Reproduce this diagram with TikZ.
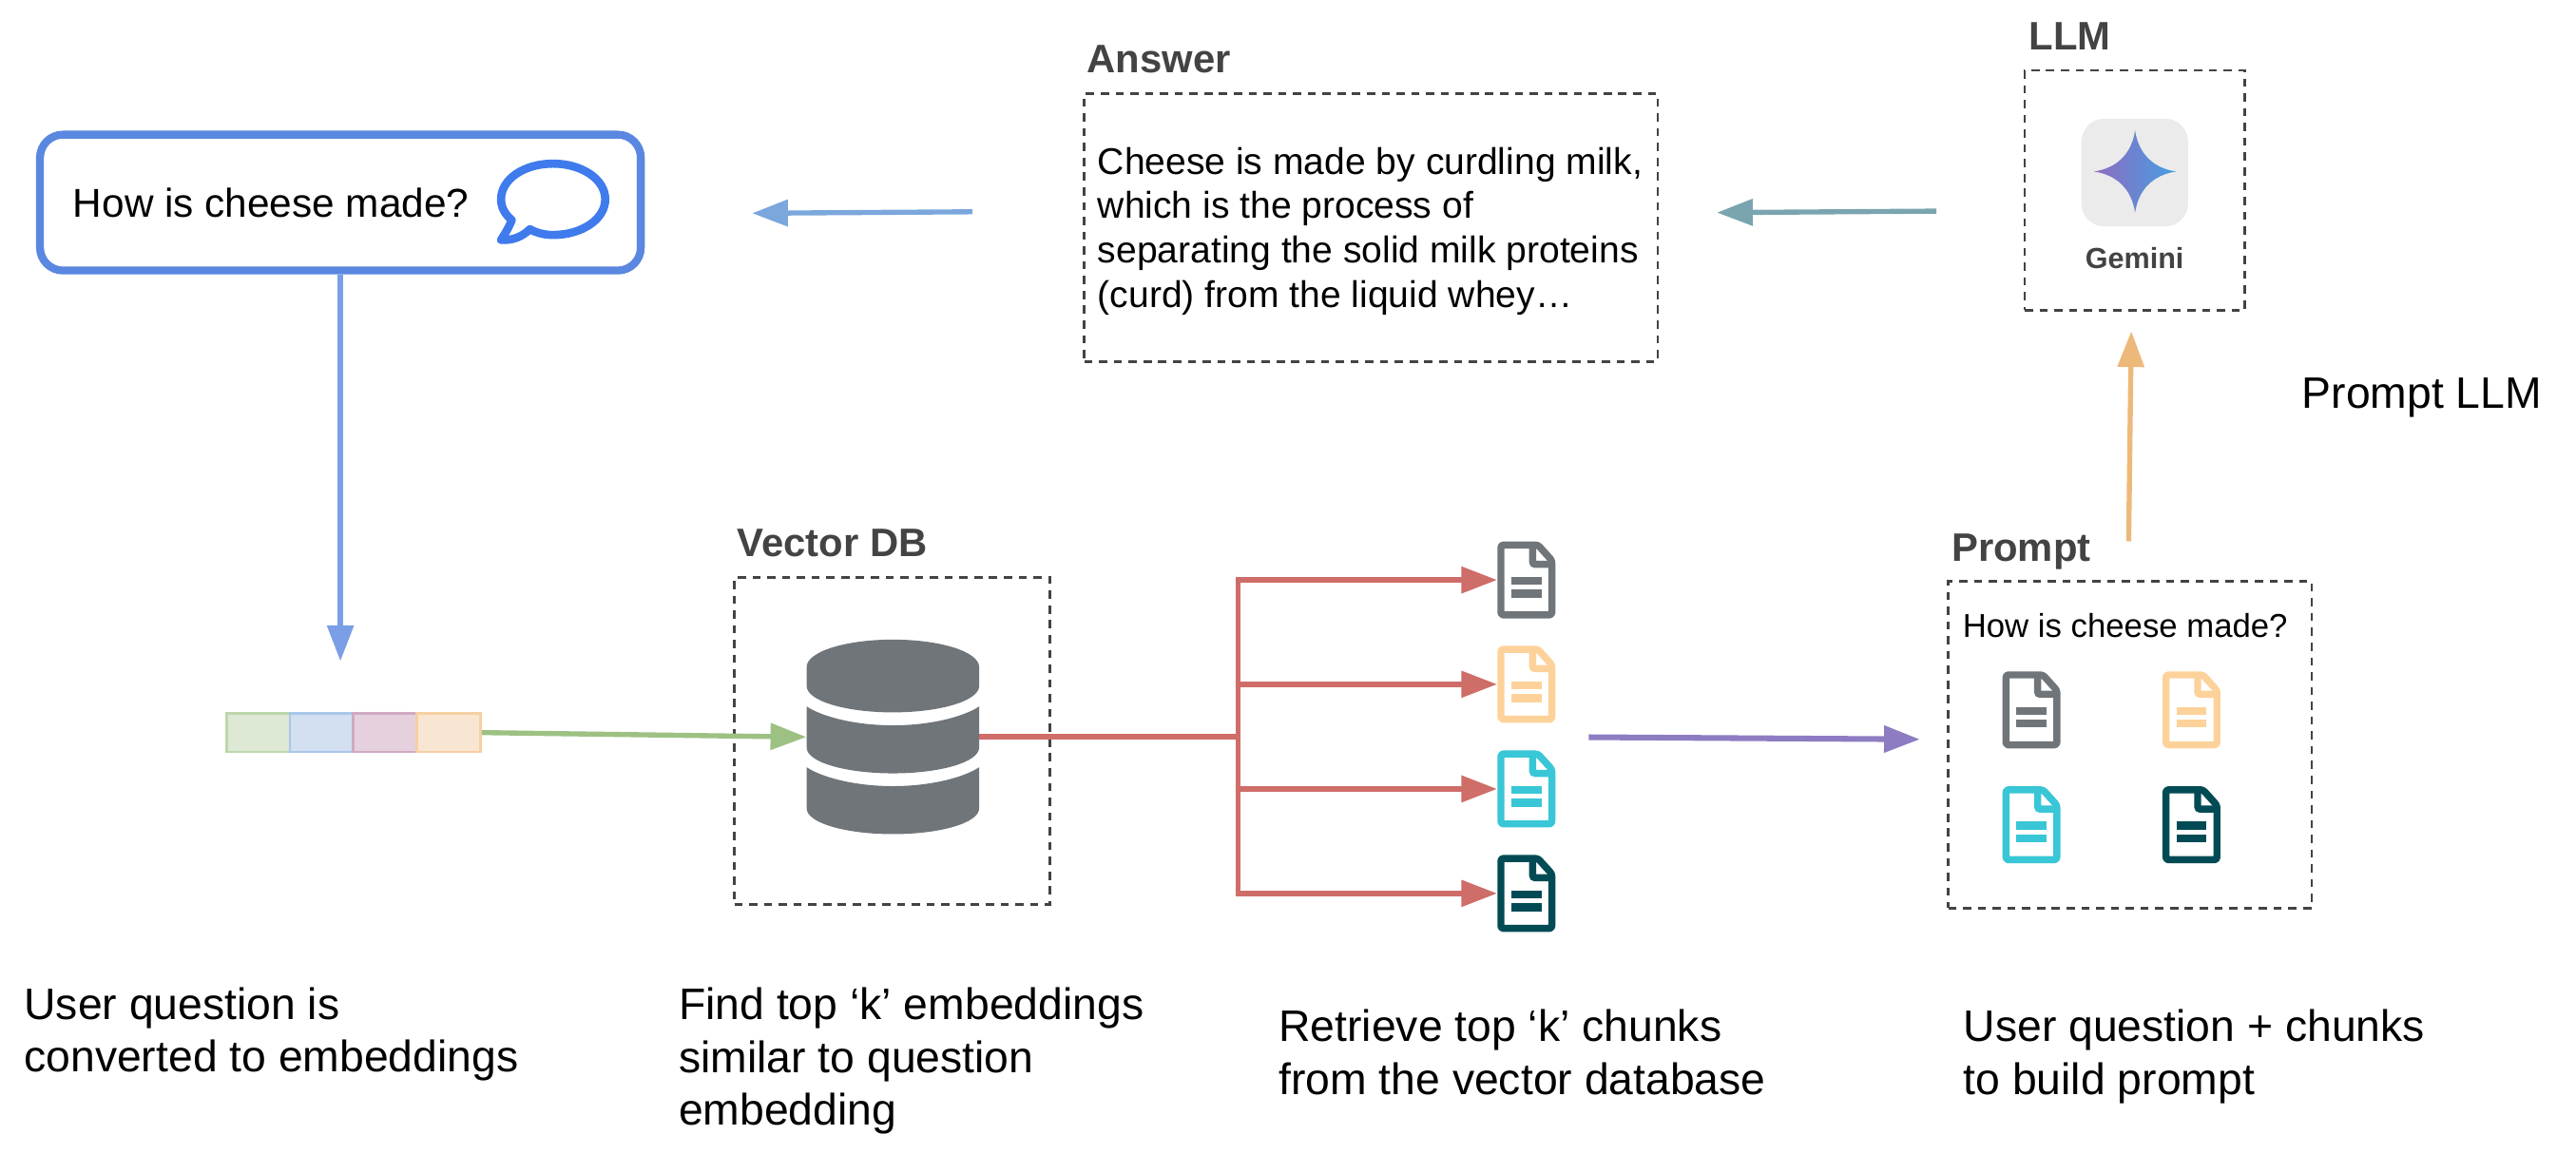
\documentclass[tikz,border=0pt]{standalone}
\usepackage{fontspec}
\setmainfont{Liberation Sans}
\usetikzlibrary{arrows.meta}

\definecolor{dashgray}{HTML}{434343}
\definecolor{icongray}{HTML}{70757A}
\definecolor{iconorange}{HTML}{FDD29A}
\definecolor{iconcyan}{HTML}{39C6D6}
\definecolor{iconteal}{HTML}{034B54}
\definecolor{askblue}{HTML}{5A87E0}
\definecolor{bubbleblue}{HTML}{3F7BEC}
\definecolor{downblue}{HTML}{7B9FE6}
\definecolor{backblue}{HTML}{7BA7DC}
\definecolor{backteal}{HTML}{7AA5B0}
\definecolor{uporange}{HTML}{EDB97A}
\definecolor{fwdgreen}{HTML}{9DC183}
\definecolor{fwdred}{HTML}{CF6D69}
\definecolor{fwdpurple}{HTML}{8E7CC3}
\definecolor{starpurple}{HTML}{8F6BBF}
\definecolor{starblue}{HTML}{459FE2}

\tikzset{
  bighead/.style={-{Triangle[length=21.8pt,width=15.8pt]}},
  flow/.style={draw,line width=3.1pt,bighead},
  dashbox/.style={draw=dashgray,line width=1.5pt,dash pattern=on 5pt off 4pt,inner sep=0pt},
  boxlabel/.style={text=dashgray,font=\fontsize{24.2}{29}\selectfont\bfseries,anchor=base west,inner sep=0pt},
  caption/.style={font=\fontsize{26.8}{32.2}\selectfont,align=left,anchor=base west,inner sep=0pt},
  blank/.style={inner sep=0pt,minimum width=35.3pt,minimum height=47pt},
  cell/.style={line width=1.6pt,minimum width=38.65pt,minimum height=23.4pt,inner sep=0pt},
  pics/docicon/.style={code={
    \draw[#1,line width=4.3pt,rounded corners=1.5pt,line join=round]
      (7,-21.3) -- (15.5,-11.9) -- (15.5,21.3) -- (-15.5,21.3) -- (-15.5,-21.3) -- cycle;
    \draw[#1,line width=4.3pt,rounded corners=1.5pt] (3.8,-21.3) -- (3.8,-9.5) -- (15.5,-9.5);
    \draw[#1,line width=5pt,line cap=rect] (-6.6,0.6) -- (6.6,0.6);
    \draw[#1,line width=5pt,line cap=rect] (-6.6,8.3) -- (6.6,8.3);
  }},
}

\begin{document}
\begin{tikzpicture}[x=1pt,y=-1pt]
  \useasboundingbox (0,0) rectangle (1568,702.4);

  % question
  \node[draw=askblue,line width=4.8pt,rounded corners=14pt,minimum width=365.7pt,minimum height=82.7pt] (ask) at (207.2,123.3) {};
  \node[anchor=base west,inner sep=0pt,font=\fontsize{24.5}{29}\selectfont] (asktext) at (44.3,132) {How is cheese made?};
  \draw[bubbleblue,line width=5pt,line join=round]
    (322.5,139.5) .. controls (327,142) and (332,143) .. (336.7,143)
    .. controls (354,143) and (368.4,133.5) .. (368.4,121.3)
    .. controls (368.4,109) and (354,99.6) .. (336.7,99.6)
    .. controls (319,99.6) and (305,109) .. (305,121.3)
    .. controls (305,126) and (307,130) .. (311.5,134)
    .. controls (310,138) and (307.5,142) .. (305,146)
    .. controls (312,146.5) and (318,144) .. (322.5,139.5) -- cycle;

  % answer, llm
  \node[dashbox,minimum width=349pt,minimum height=163pt] (answer) at (834.5,138.5) {};
  \node[boxlabel] (answerlabel) at (661.5,44) {Answer};
  \node[anchor=base west,inner sep=0pt,align=left,font=\fontsize{22.6}{27}\selectfont] (answertext) at (668,187)
    {Cheese is made by curdling milk,\\which is the process of\\separating the solid milk proteins\\(curd) from the liquid whey…};

  \node[dashbox,minimum width=134pt,minimum height=146pt] (llm) at (1299.4,115.8) {};
  \node[boxlabel] (llmlabel) at (1235,30.3) {LLM};
  \node[fill=black!8,rounded corners=14pt,minimum width=65pt,minimum height=65.6pt,inner sep=0pt] (tile) at (1299.4,105) {};
  \path[left color=starpurple,right color=starblue]
    (1299.6,79.4) .. controls (1301.6,93.4) and (1310.6,102.4) .. (1324.6,104.4)
    .. controls (1310.6,106.4) and (1301.6,115.4) .. (1299.6,129.4)
    .. controls (1297.6,115.4) and (1288.6,106.4) .. (1274.6,104.4)
    .. controls (1288.6,102.4) and (1297.6,93.4) .. (1299.6,79.4) -- cycle;
  \node[anchor=base,inner sep=0pt,text=dashgray,font=\fontsize{17.7}{21}\selectfont\bfseries] (gemini) at (1299.3,163.6) {Gemini};
  \node[caption] (promptllm) at (1401,248.5) {Prompt LLM};

  % embedding strip
  \definecolor{cellag}{HTML}{BDD7AC}\definecolor{cellaf}{HTML}{DDE8D5}
  \definecolor{cellbg}{HTML}{A9C7EA}\definecolor{cellbf}{HTML}{D3E0F1}
  \definecolor{cellcg}{HTML}{CFA9C2}\definecolor{cellcf}{HTML}{E5D1DD}
  \definecolor{celldg}{HTML}{F6CFA3}\definecolor{celldf}{HTML}{F8E6D2}
  \node[cell,draw=cellag,fill=cellaf] (cella) at (157.1,445.9) {};
  \node[cell,draw=cellbg,fill=cellbf] (cellb) at (195.8,445.9) {};
  \node[cell,draw=cellcg,fill=cellcf] (cellc) at (234.4,445.9) {};
  \node[cell,draw=celldg,fill=celldf] (celld) at (273.1,445.9) {};

  % vector db
  \node[dashbox,minimum width=192pt,minimum height=199pt] (vectordb) at (543,451) {};
  \node[boxlabel] (vectorlabel) at (448.7,339) {Vector DB};
  \node[inner sep=0pt,minimum width=105pt,minimum height=118.7pt] (db) at (543.5,448.6) {};
  \fill[icongray] (491,406) .. controls (491,396.7) and (514.5,389.3) .. (543.5,389.3)
    .. controls (572.5,389.3) and (596,396.7) .. (596,406) -- (596,417.6)
    .. controls (596,426.5) and (572.5,433.6) .. (543.5,433.6)
    .. controls (514.5,433.6) and (491,426.5) .. (491,417.6) -- cycle;
  \foreach \dy in {0,37}{
    \fill[icongray,yshift=-\dy pt] (491,430) .. controls (500,436) and (520,441.5) .. (543.5,441.5)
      .. controls (567,441.5) and (587,436) .. (596,430) -- (596,455)
      .. controls (596,464) and (572,470.7) .. (543.5,470.7)
      .. controls (515,470.7) and (491,464) .. (491,455) -- cycle;
  }

  % retrieved chunks
  \foreach \name/\col/\ypos in {doca/icongray/353,docb/iconorange/416.5,docc/iconcyan/480.2,docd/iconteal/543.8}{
    \node[blank] (\name) at (929.1,\ypos) {};
    \pic at (\name) {docicon=\col};
  }
  \coordinate (split) at (753.7,448.6);

  % prompt
  \node[dashbox,minimum width=221.3pt,minimum height=199pt] (prompt) at (1296.5,453.3) {};
  \node[boxlabel] (promptlabel) at (1187.8,341.4) {Prompt};
  \node[anchor=base west,inner sep=0pt,font=\fontsize{20.1}{24}\selectfont] (prompttext) at (1194.5,387.7) {How is cheese made?};
  \foreach \name/\col/\xpos/\ypos in {prompta/icongray/1236.5/432.1,promptb/iconorange/1333.9/432.1,promptc/iconcyan/1236.5/502,promptd/iconteal/1333.9/502}{
    \node[blank] (\name) at (\xpos,\ypos) {};
    \pic at (\name) {docicon=\col};
  }

  % free arrow ends
  \coordinate (stripin) at (207.2,402.4);
  \coordinate (fromanswer) at (591.8,128.9);
  \coordinate (toask) at (457.8,129.8);
  \coordinate (fromllm) at (1178.6,128.5);
  \coordinate (toanswer) at (1045.1,129.4);
  \coordinate (fromprompt) at (1295.7,329.5);
  \coordinate (tollm) at (1297.3,201.6);
  \coordinate (fromdocs) at (967,448.7);
  \coordinate (toprompt) at (1168.6,450);

  % arrows
  \path[flow,draw=downblue] (ask.south) -- (stripin);
  \path[flow,draw=fwdgreen] (celld.east) -- (db.west);
  \path[flow,draw=backblue] (fromanswer) -- (toask);
  \path[flow,draw=backteal] (fromllm) -- (toanswer);
  \path[flow,draw=uporange] (fromprompt) -- (tollm);
  \path[flow,draw=fwdpurple,line width=3.5pt] (fromdocs) -- (toprompt);
  \path[draw=fwdred,line width=3.6pt] (db.east) -- (split);
  \foreach \name in {doca,docb,docc,docd}{
    \path[flow,draw=fwdred] (split) |- (\name.west);
  }

  % captions
  \node[caption] (capa) at (14.5,652.5) {User question is\\converted to embeddings};
  \node[caption] (capb) at (413,684.9) {Find top ‘k’ embeddings\\similar to question\\embedding};
  \node[caption] (capc) at (778.2,666.2) {Retrieve top ‘k’ chunks\\from the vector database};
  \node[caption] (capd) at (1195,666.2) {User question + chunks\\to build prompt};
\end{tikzpicture}
\end{document}
